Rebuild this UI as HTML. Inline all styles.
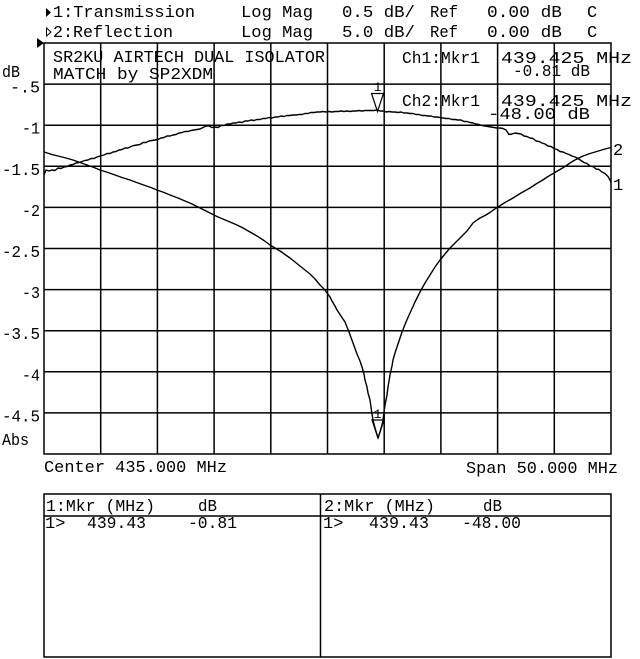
<!DOCTYPE html>
<html>
<head>
<meta charset="utf-8">
<style>
html,body{margin:0;padding:0;background:#fff;}
svg{display:block;}
text{font-family:"Liberation Mono","DejaVu Sans Mono",monospace;font-size:17px;fill:#000;}
</style>
</head>
<body>
<svg width="640" height="659" viewBox="0 0 640 659" xmlns="http://www.w3.org/2000/svg">
<rect width="640" height="659" fill="#fff"/>

<!-- header -->
<polygon points="46,8 51,12.5 46,17" fill="#000"/>
<polygon points="46.5,28 51,32 46.5,36" fill="none" stroke="#000" stroke-width="1"/>
<text x="53" y="17" textLength="142" lengthAdjust="spacingAndGlyphs">1:Transmission</text>
<text x="53" y="37" textLength="120" lengthAdjust="spacingAndGlyphs">2:Reflection</text>
<text x="241" y="17" textLength="72" lengthAdjust="spacingAndGlyphs">Log Mag</text>
<text x="241" y="37" textLength="72" lengthAdjust="spacingAndGlyphs">Log Mag</text>
<text x="342" y="17" textLength="73" lengthAdjust="spacingAndGlyphs">0.5 dB/</text>
<text x="342" y="37" textLength="73" lengthAdjust="spacingAndGlyphs">5.0 dB/</text>
<text x="430" y="17" textLength="28" lengthAdjust="spacingAndGlyphs">Ref</text>
<text x="430" y="37" textLength="28" lengthAdjust="spacingAndGlyphs">Ref</text>
<text x="487" y="17" textLength="75" lengthAdjust="spacingAndGlyphs">0.00 dB</text>
<text x="487" y="37" textLength="75" lengthAdjust="spacingAndGlyphs">0.00 dB</text>
<text x="587" y="17">C</text>
<text x="587" y="37">C</text>

<!-- reference arrow -->
<polygon points="37,38 44,43 37,48" fill="#000"/>

<!-- grid -->
<g stroke="#000" stroke-width="1.5" fill="none">
<rect x="44" y="43" width="567" height="411"/>
<line x1="44" y1="84.1" x2="611" y2="84.1"/>
<line x1="44" y1="125.2" x2="611" y2="125.2"/>
<line x1="44" y1="166.3" x2="611" y2="166.3"/>
<line x1="44" y1="207.4" x2="611" y2="207.4"/>
<line x1="44" y1="248.5" x2="611" y2="248.5"/>
<line x1="44" y1="289.6" x2="611" y2="289.6"/>
<line x1="44" y1="330.7" x2="611" y2="330.7"/>
<line x1="44" y1="371.8" x2="611" y2="371.8"/>
<line x1="44" y1="412.9" x2="611" y2="412.9"/>
<line x1="100.7" y1="43" x2="100.7" y2="454"/>
<line x1="157.4" y1="43" x2="157.4" y2="454"/>
<line x1="214.1" y1="43" x2="214.1" y2="454"/>
<line x1="270.8" y1="43" x2="270.8" y2="454"/>
<line x1="327.5" y1="43" x2="327.5" y2="454"/>
<line x1="384.2" y1="43" x2="384.2" y2="454"/>
<line x1="440.9" y1="43" x2="440.9" y2="454"/>
<line x1="497.6" y1="43" x2="497.6" y2="454"/>
<line x1="554.3" y1="43" x2="554.3" y2="454"/>
</g>

<!-- y labels -->
<text x="2" y="77" textLength="18" lengthAdjust="spacingAndGlyphs">dB</text>
<g text-anchor="end">
<text x="40" y="92.5" textLength="30" lengthAdjust="spacingAndGlyphs">-.5</text>
<text x="40" y="133.7" textLength="18" lengthAdjust="spacingAndGlyphs">-1</text>
<text x="40" y="174.8" textLength="38" lengthAdjust="spacingAndGlyphs">-1.5</text>
<text x="40" y="215.9" textLength="18" lengthAdjust="spacingAndGlyphs">-2</text>
<text x="40" y="257" textLength="38" lengthAdjust="spacingAndGlyphs">-2.5</text>
<text x="40" y="298.1" textLength="18" lengthAdjust="spacingAndGlyphs">-3</text>
<text x="40" y="339.2" textLength="38" lengthAdjust="spacingAndGlyphs">-3.5</text>
<text x="40" y="380.3" textLength="18" lengthAdjust="spacingAndGlyphs">-4</text>
<text x="40" y="421.4" textLength="38" lengthAdjust="spacingAndGlyphs">-4.5</text>
</g>
<text x="2" y="445" textLength="27" lengthAdjust="spacingAndGlyphs">Abs</text>

<!-- annotations inside chart -->
<text x="53" y="62" textLength="272" lengthAdjust="spacingAndGlyphs">SR2KU AIRTECH DUAL ISOLATOR</text>
<text x="53" y="79" textLength="160" lengthAdjust="spacingAndGlyphs">MATCH by SP2XDM</text>
<text x="402" y="63" textLength="78" lengthAdjust="spacingAndGlyphs">Ch1:Mkr1</text>
<text x="501" y="63" textLength="131" lengthAdjust="spacingAndGlyphs">439.425 MHz</text>
<text x="513" y="76" textLength="77" lengthAdjust="spacingAndGlyphs">-0.81 dB</text>
<text x="402" y="106" textLength="78" lengthAdjust="spacingAndGlyphs">Ch2:Mkr1</text>
<text x="501" y="106" textLength="131" lengthAdjust="spacingAndGlyphs">439.425 MHz</text>
<text x="488" y="119" textLength="102" lengthAdjust="spacingAndGlyphs">-48.00 dB</text>

<!-- curve 1: transmission -->
<polyline fill="none" stroke="#000" stroke-width="1.4" stroke-linejoin="round" points="
44,175 46,170 49,171 52,170 55,170.5 58,168 61,168.5 64,167 67,166.5 70,165 73,164.5 76,163 79,162.5 82,161.5 85,160.5 88,160 91,158.5 94,158.5 97,157 100,156 104,155 107,153.5 110,153.5 113,152 116,151.5 119,150 122,149.5 125,148 128,148 131,146.5 134,145.5 137,145 140,144.5 143,142.5 146,142.5 149,141 152,140.5 155,140 158,139.5 161,138 164,137.5 167,136 170,136 173,135 176,134.5 179,133 182,132.5 185,131.5 188,131.5 191,130.5 194,130 197,129.5 200,129 203,127.5 206,126 209,126 212,127.5 215,127 218,127.5 221,125.5 224,125.5 227,124 230,124 233,123 236,123 239,122 242,122.5 245,121 248,121 251,120 254,120.5 257,119.5 260,119.5 263,118.5 266,118.5 269,117.5 272,118 275,117 278,117 281,116 284,116.5 287,115.5 290,115.5 293,115 296,115 299,114.5 302,114.5 305,113.5 308,113.5 311,112.5 314,112.5 317,112 320,112 323,111.5 326,112 329,111.5 332,112 335,111.5 338,111.5 341,111 344,111.5 347,111 350,111.5 353,111 356,111 359,110.5 362,111 365,110.5 368,110.5 371,110.5 374,110.5 377,110 380,111 383,111 386,112 389,111.5 392,112 395,112 398,112.5 401,112 404,113 407,113 410,113.5 413,113.5 416,114.5 419,114.5 422,115.5 425,115.5 428,116 431,116 434,117 437,117 440,117.5 443,118 446,118.5 449,118.5 452,119.5 455,119.5 458,120 461,120 464,121.5 467,121.5 470,122.5 473,123 476,124 479,124.5 482,125.5 485,126 488,126.5 491,127 494,127.5 497,128 500,128 503,128.5 506,130 509,134.5 512,134 515,133 518,133.5 521,134 524,136 527,136.5 530,138 533,138.5 536,141 539,141.5 542,143 545,144 548,146 551,146.5 554,148.5 557,149.5 560,151.5 563,152 566,153.5 569,154.5 572,156 575,157 578,158.5 581,160.5 584,162.5 587,163.5 590,166 593,166.5 596,169 599,169.5 602,172 605,173.5 608,176.5 611,182"/>

<!-- curve 2: reflection -->
<polyline fill="none" stroke="#000" stroke-width="1.4" stroke-linejoin="round" points="
44,152 52,154.5 60,156.5 66,158 73,160 80,162.5 87,165 94,167.5 100,170 108,172.5 115,175 122,177.5 130,180 138,183 145,185.5 151,187.5 157,190 164,192.5 170,195 178,198 185,201 191,203.5 197,206.5 204,210 210,213 217,216.5 224,219.5 230,222 237,225 243,228 250,232 257,236 264,240.5 270,245 275,248 280,251 285,254.5 290,258 295,262 300,266 305,270 310,274 315,279 320,285 324,289 327,293 330,297 332,301 335,306 337,310 341,316 345,322 347,327 349,332 351,337.5 353,343 355,348.5 357,354 360,361 362,367 364,374 365,380 367,387 368,393 370,400 371,407 372,414 373,420 375,428 378,438 380,432 382,425 383,420 384,412 385,405 387,395 388,387 390,375 392,366 393,360 395,353 397,347 400,338 402,332 406,322 410,313 415,302 420,292 425,283 430,275 435,267 440,260 445,254 450,248 455,243 460,238 464,234 467,231 470,227 473,223 477,220 480,218 485,215.5 490,212.5 494,209.5 498,207 505,202.5 513,198 521,193 530,188 536,184 542,180.5 548,176.5 554,173 560,169.5 565,166.5 570,163 574,160.5 577,159 583,156 590,153.5 595,152 600,150.5 605,149 611,147.5"/>

<!-- markers -->
<text x="377.5" y="91" text-anchor="middle" style="font-size:13px">1</text>
<polygon points="371.5,93.5 383.5,93.5 377.5,111.5" fill="#fff" stroke="#000" stroke-width="1.2"/>
<text x="377.5" y="418" text-anchor="middle" style="font-size:13px">1</text>
<polygon points="372,420 384,420 378,438" fill="none" stroke="#000" stroke-width="1.2"/>

<!-- trace labels -->
<text x="613" y="155">2</text>
<text x="613" y="190">1</text>

<!-- bottom axis texts -->
<text x="44" y="472" textLength="183" lengthAdjust="spacingAndGlyphs">Center 435.000 MHz</text>
<text x="466" y="473" textLength="152" lengthAdjust="spacingAndGlyphs">Span 50.000 MHz</text>

<!-- marker table -->
<g stroke="#000" stroke-width="1.5" fill="none">
<rect x="44" y="494" width="567" height="163"/>
<line x1="44" y1="516" x2="611" y2="516"/>
<line x1="320.5" y1="494" x2="320.5" y2="657"/>
</g>
<text x="46" y="511" textLength="109" lengthAdjust="spacingAndGlyphs">1:Mkr (MHz)</text>
<text x="198" y="511" textLength="19" lengthAdjust="spacingAndGlyphs">dB</text>
<text x="45" y="528">1&gt;</text>
<text x="87" y="528" textLength="59" lengthAdjust="spacingAndGlyphs">439.43</text>
<text x="188" y="528" textLength="49" lengthAdjust="spacingAndGlyphs">-0.81</text>
<text x="324" y="511" textLength="111" lengthAdjust="spacingAndGlyphs">2:Mkr (MHz)</text>
<text x="483" y="511" textLength="19" lengthAdjust="spacingAndGlyphs">dB</text>
<text x="323" y="528">1&gt;</text>
<text x="369" y="528" textLength="60" lengthAdjust="spacingAndGlyphs">439.43</text>
<text x="462" y="528" textLength="59" lengthAdjust="spacingAndGlyphs">-48.00</text>
</svg>
</body>
</html>
